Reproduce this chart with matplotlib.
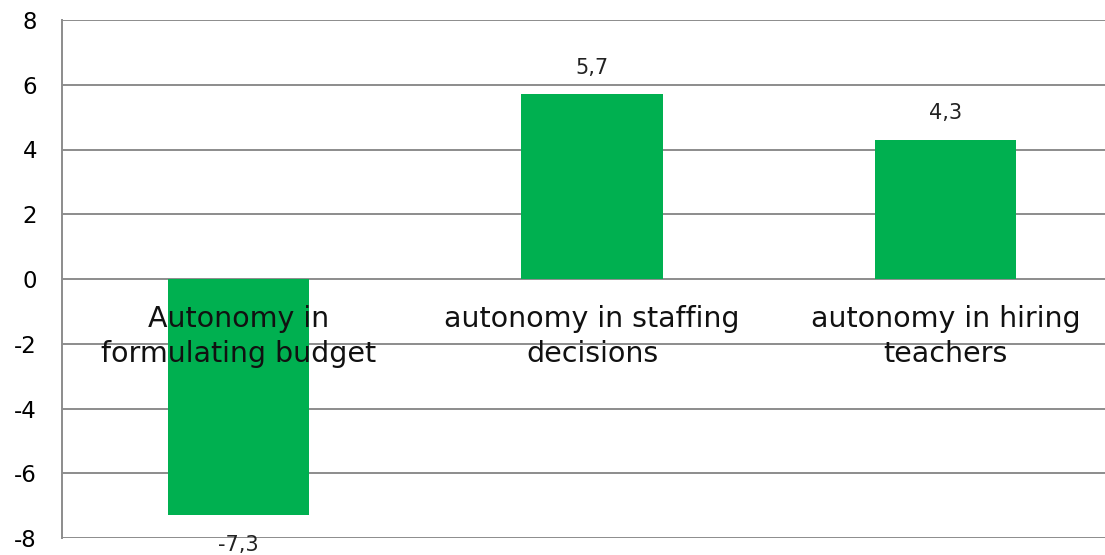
import matplotlib.pyplot as plt

categories = ["Autonomy in\nformulating budget",
              "autonomy in staffing\ndecisions",
              "autonomy in hiring\nteachers"]
values = [-7.3, 5.7, 4.3]
value_labels = ["-7,3", "5,7", "4,3"]
y_ticks = [-8, -6, -4, -2, 0, 2, 4, 6, 8]

fig = plt.figure(figsize=(11.05, 5.55), dpi=100)
# plot area runs a little past the right edge, like the cropped original
ax = fig.add_axes([62 / 1105, 17 / 555, 1060 / 1105, 518 / 555])

x = range(len(values))
ax.bar(x, values, width=0.4, color="#00B050", zorder=3)

ax.set_ylim(-8, 8)
ax.set_xlim(-0.5, 2.5)
ax.set_yticks(y_ticks)
ax.set_yticklabels([str(t) for t in y_ticks], fontsize=16.5)
ax.tick_params(axis="y", length=0, pad=18)
ax.set_xticks([])
ax.grid(axis="y", color="#8c8c8c", linewidth=1.4, zorder=1)
ax.set_axisbelow(True)
for side in ["top", "right", "bottom"]:
    ax.spines[side].set_visible(False)
ax.spines["left"].set_color("#8c8c8c")
ax.spines["left"].set_linewidth(1.4)

# data labels
for i, (v, lab) in enumerate(zip(values, value_labels)):
    if v >= 0:
        ax.annotate(lab, (i, v), xytext=(0, 12), textcoords="offset points",
                    ha="center", va="bottom", fontsize=15, color="#222222")
    else:
        ax.annotate(lab, (i, v), xytext=(0, -14), textcoords="offset points",
                    ha="center", va="top", fontsize=15, color="#222222",
                    annotation_clip=False)

# category labels sit just under the zero line
for i, cat in enumerate(categories):
    ax.annotate(cat, (i, 0), xytext=(0, -19), textcoords="offset points",
                ha="center", va="top", fontsize=20.5, linespacing=1.32,
                color="#111111", zorder=5)

fig.savefig("out.png", dpi=100)
